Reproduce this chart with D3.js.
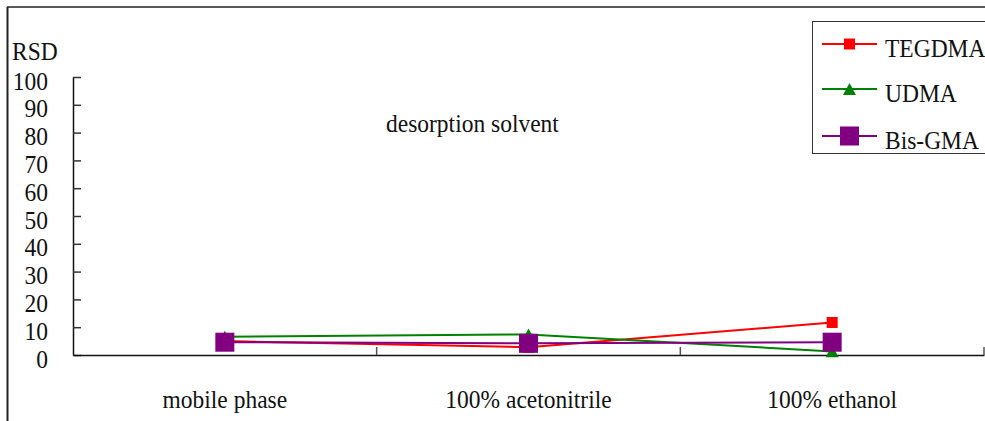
<!DOCTYPE html>
<html>
<head>
<meta charset="utf-8">
<script src="https://cdn.jsdelivr.net/npm/d3@7"></script>
<style>
  html, body { margin: 0; padding: 0; background: #fff; }
  svg { display: block; }
  svg text { font-family: "Liberation Serif", Tinos, "Times New Roman", Times, "DejaVu Serif", "Noto Serif", serif !important; fill: #111; }
</style>
</head>
<body>
<script>
const categories = ["mobile phase", "100% acetonitrile", "100% ethanol"];
const seriesNames = ["TEGDMA", "UDMA", "Bis-GMA"];
const tegdma = [5.0, 2.8, 11.7];
const udma = [6.6, 7.4, 1.3];
const bisgma = [4.6, 4.2, 4.6];
const yTicks = [0, 10, 20, 30, 40, 50, 60, 70, 80, 90, 100];
const yTitle = "RSD";
const xTitle = "desorption solvent";

const W = 985, H = 421;
const FS = 23.5, SY = 1.1;
const FONT = '"Liberation Serif", Tinos, "Times New Roman", Times, "DejaVu Serif", "Noto Serif", serif';

const svg = d3.select("body").append("svg").attr("width", W).attr("height", H)
  .attr("font-family", FONT);

// outer frame
svg.append("line").attr("x1", 7.5).attr("x2", 7.5).attr("y1", 7).attr("y2", H)
  .attr("stroke", "#222").attr("stroke-width", 2);
svg.append("line").attr("x1", 7).attr("x2", W).attr("y1", 7).attr("y2", 7)
  .attr("stroke", "#222").attr("stroke-width", 1.5);

const x = d3.scaleBand().domain(categories).range([73, 984]).padding(0);
const y = d3.scaleLinear().domain([0, 100]).range([355, 77]);
const cx = c => x(c) + x.bandwidth() / 2;

// y axis
const yAxis = svg.append("g").attr("transform", "translate(73,0)")
  .call(d3.axisLeft(y).tickValues(yTicks).tickSize(-8).tickSizeOuter(0).tickPadding(25));
yAxis.attr("font-family", FONT);
yAxis.select(".domain").attr("stroke", "#111").attr("stroke-width", 1.5);
yAxis.selectAll(".tick line").attr("stroke", "#333").attr("stroke-width", 1.5);
yAxis.selectAll(".tick text")
  .attr("dy", null).attr("y", 11)
  .attr("transform", `scale(1,${SY})`)
  .attr("font-family", FONT)
  .style("font-size", FS + "px").attr("fill", "#111");

// x axis
const xAxis = svg.append("g").attr("transform", "translate(0,355)")
  .call(d3.axisBottom(x).tickSize(0).tickSizeOuter(0));
xAxis.attr("font-family", FONT);
xAxis.select(".domain").attr("stroke", "#111").attr("stroke-width", 1.5);
xAxis.selectAll(".tick text")
  .attr("dy", null).attr("y", 0)
  .attr("transform", `translate(0,53) scale(1,${SY})`)
  .attr("font-family", FONT)
  .style("font-size", FS + "px").attr("fill", "#111");
// category boundary ticks
svg.append("g").selectAll("line").data(categories)
  .join("line")
  .attr("x1", d => x(d) + x.bandwidth())
  .attr("x2", d => x(d) + x.bandwidth())
  .attr("y1", 355).attr("y2", 347)
  .attr("stroke", "#555").attr("stroke-width", 1.5);

// titles
svg.append("text").text(yTitle)
  .attr("transform", `translate(12,60) scale(1,${SY})`)
  .style("font-size", FS + "px");
svg.append("text").text(xTitle)
  .attr("transform", `translate(386,132) scale(1,${SY})`)
  .style("font-size", FS + "px");

// series
const series = [
  { name: seriesNames[0], values: tegdma, color: "#ff0000", shape: "square", size: 11 },
  { name: seriesNames[1], values: udma, color: "#008000", shape: "triangle", size: 13 },
  { name: seriesNames[2], values: bisgma, color: "#800080", shape: "square", size: 19 }
];

function drawMarker(g, shape, size, color, px, py) {
  if (shape === "square") {
    g.append("rect").attr("x", px - size / 2).attr("y", py - size / 2)
      .attr("width", size).attr("height", size).attr("fill", color);
  } else {
    const h = size * 0.92;
    g.append("path")
      .attr("d", `M${px},${py - h / 2}L${px + size / 2},${py + h / 2}L${px - size / 2},${py + h / 2}Z`)
      .attr("fill", color);
  }
}

const line = d3.line().x(d => cx(d.c)).y(d => y(d.v));
series.forEach(s => {
  const g = svg.append("g");
  const pts = categories.map((c, i) => ({ c, v: s.values[i] }));
  g.append("path").datum(pts).attr("d", line)
    .attr("fill", "none").attr("stroke", s.color).attr("stroke-width", 2);
  pts.forEach(p => drawMarker(g, s.shape, s.size, s.color, cx(p.c), y(p.v)));
});

// legend
const lg = svg.append("g");
lg.append("rect").attr("x", 812.5).attr("y", 21.5).attr("width", 200).attr("height", 132)
  .attr("fill", "#fff").attr("stroke", "#333").attr("stroke-width", 1);
const rowsY = [44, 89, 136];
series.forEach((s, i) => {
  const ry = rowsY[i];
  lg.append("line").attr("x1", 822).attr("x2", 877).attr("y1", ry).attr("y2", ry)
    .attr("stroke", s.color).attr("stroke-width", 2);
  drawMarker(lg, s.shape, s.size, s.color, 849.5, ry);
  lg.append("text").text(s.name)
    .attr("transform", `translate(885,${ry + 13}) scale(1,${SY})`)
    .style("font-size", FS + "px");
});
</script>
</body>
</html>
